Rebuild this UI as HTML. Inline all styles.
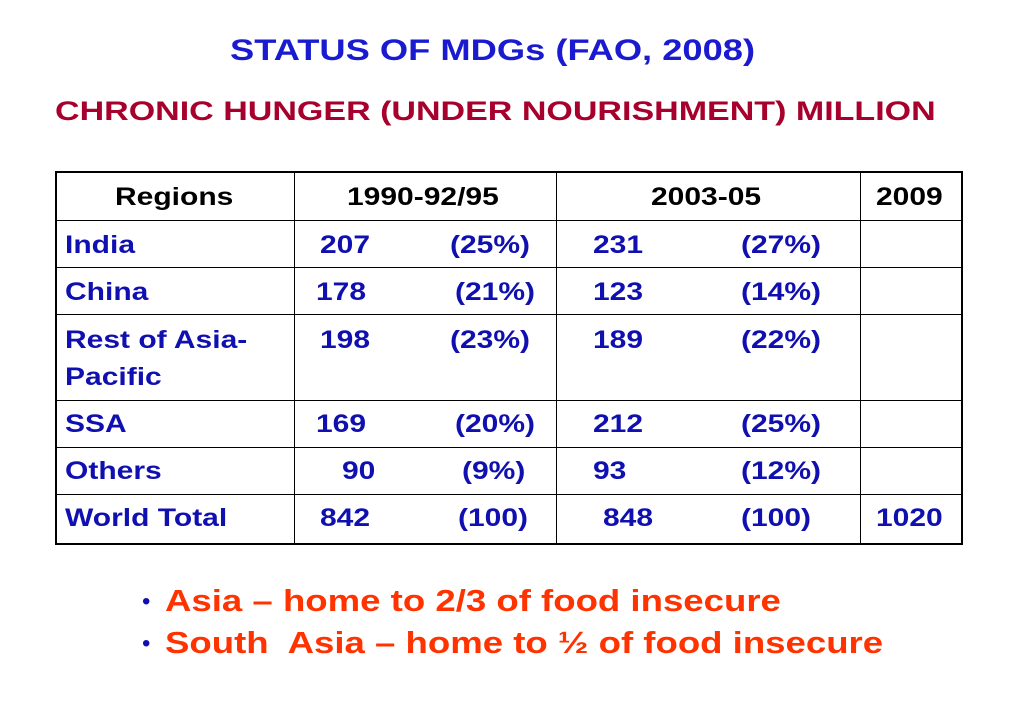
<!DOCTYPE html>
<html><head><meta charset="utf-8"><style>
body{margin:0;width:1023px;height:708px;background:#fff;position:relative;overflow:hidden;font-family:"Liberation Sans",Arial,sans-serif;font-weight:bold}
.t{position:absolute;white-space:nowrap;line-height:1;transform-origin:0 0}
.c{font-size:25px;color:#1010b0;transform:scaleX(1.2)}
.h{font-size:25px;color:#000;transform:scaleX(1.2)}
.line{position:absolute;background:#000}
</style></head><body>
<div class="t" style="left:230px;top:36px;font-size:30px;color:#1a1ad0;transform:scaleX(1.21)">STATUS OF MDGs (FAO, 2008)</div>
<div class="t" style="left:55px;top:98px;font-size:27px;color:#a8002c;transform:scaleX(1.26)">CHRONIC HUNGER (UNDER NOURISHMENT) MILLION</div>

<div>
<div class="line" style="left:55px;top:171px;width:908px;height:2px"></div>
<div class="line" style="left:55px;top:543px;width:908px;height:2px"></div>
<div class="line" style="left:55px;top:171px;width:2px;height:374px"></div>
<div class="line" style="left:961px;top:171px;width:2px;height:374px"></div>
<div class="line" style="left:294px;top:171px;width:1px;height:374px"></div>
<div class="line" style="left:556px;top:171px;width:1px;height:374px"></div>
<div class="line" style="left:860px;top:171px;width:1px;height:374px"></div>
<div class="line" style="left:55px;top:220px;width:908px;height:1px"></div>
<div class="line" style="left:55px;top:267px;width:908px;height:1px"></div>
<div class="line" style="left:55px;top:314px;width:908px;height:1px"></div>
<div class="line" style="left:55px;top:400px;width:908px;height:1px"></div>
<div class="line" style="left:55px;top:447px;width:908px;height:1px"></div>
<div class="line" style="left:55px;top:494px;width:908px;height:1px"></div>

<div class="t h" style="left:115px;top:185px">Regions</div>
<div class="t h" style="left:347px;top:185px">1990-92/95</div>
<div class="t h" style="left:651px;top:185px">2003-05</div>
<div class="t h" style="left:876px;top:185px">2009</div>

<div class="t c" style="left:65px;top:233px">India</div>
<div class="t c" style="left:320px;top:233px">207</div><div class="t c" style="left:450px;top:233px">(25%)</div>
<div class="t c" style="left:593px;top:233px">231</div><div class="t c" style="left:741px;top:233px">(27%)</div>

<div class="t c" style="left:65px;top:280px">China</div>
<div class="t c" style="left:316px;top:280px">178</div><div class="t c" style="left:455px;top:280px">(21%)</div>
<div class="t c" style="left:593px;top:280px">123</div><div class="t c" style="left:741px;top:280px">(14%)</div>

<div class="t c" style="left:65px;line-height:37px;top:322px">Rest of Asia-<br>Pacific</div>
<div class="t c" style="left:320px;top:328px">198</div><div class="t c" style="left:450px;top:328px">(23%)</div>
<div class="t c" style="left:593px;top:328px">189</div><div class="t c" style="left:741px;top:328px">(22%)</div>

<div class="t c" style="left:65px;top:412px">SSA</div>
<div class="t c" style="left:316px;top:412px">169</div><div class="t c" style="left:455px;top:412px">(20%)</div>
<div class="t c" style="left:593px;top:412px">212</div><div class="t c" style="left:741px;top:412px">(25%)</div>

<div class="t c" style="left:65px;top:459px">Others</div>
<div class="t c" style="left:342px;top:459px">90</div><div class="t c" style="left:462px;top:459px">(9%)</div>
<div class="t c" style="left:593px;top:459px">93</div><div class="t c" style="left:741px;top:459px">(12%)</div>

<div class="t c" style="left:65px;top:506px">World Total</div>
<div class="t c" style="left:320px;top:506px">842</div><div class="t c" style="left:458px;top:506px">(100)</div>
<div class="t c" style="left:603px;top:506px">848</div><div class="t c" style="left:741px;top:506px">(100)</div>
<div class="t c" style="left:876px;top:506px">1020</div>
</div>

<div class="t" style="left:142px;top:590px;font-size:24px;color:#1010b0;font-weight:normal">•</div>
<div class="t" style="left:165px;top:585px;font-size:31px;color:#ff3300;transform:scaleX(1.18)">Asia – home to 2/3 of food insecure</div>
<div class="t" style="left:142px;top:632px;font-size:24px;color:#1010b0;font-weight:normal">•</div>
<div class="t" style="left:165px;top:627px;font-size:31px;color:#ff3300;transform:scaleX(1.18)">South&nbsp; Asia – home to ½ of food insecure</div>
</body></html>
